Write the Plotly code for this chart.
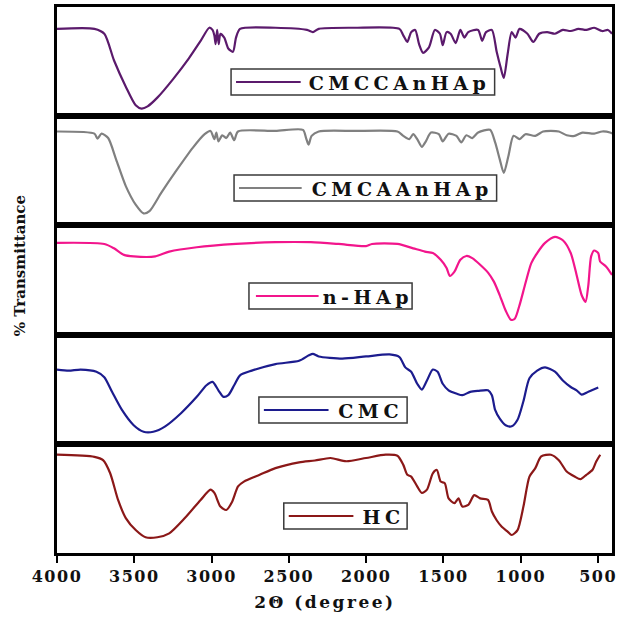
import plotly.graph_objects as go
from plotly.subplots import make_subplots

# FTIR spectra, wavenumber (cm-1) vs relative transmittance (0-100 within each panel)
cmccanhap_wn = [4000, 3758, 3694, 3631, 3555, 3491, 3453, 3414, 3351, 3249, 3147, 3071, 3015, 2994,
                2982, 2974, 2964, 2954, 2943, 2918, 2892, 2862, 2842, 2816, 2587, 2383, 2345, 2307,
                2078, 1785, 1760, 1734, 1709, 1683, 1658, 1632, 1594, 1556, 1523, 1505, 1480, 1454,
                1421, 1391, 1365, 1340, 1276, 1250, 1225, 1187, 1156, 1131, 1110, 1085, 1059, 1034,
                1008, 957, 919, 881, 830, 779, 728, 677, 627, 576, 525, 474, 436, 410]
cmccanhap_t = [80, 80, 75.5, 51, 27, 10, 7, 9, 17, 34, 53, 69, 81, 79,
               74, 66, 79, 66, 75.5, 72, 62, 59, 72, 80, 81, 79, 77, 80,
               81, 80, 74, 68, 77, 79, 66, 58, 63, 79, 75.5, 65, 77, 75.5,
               67, 79, 72, 77, 79, 69, 77, 79, 59, 45, 35, 57, 77, 72,
               80, 75.5, 68, 75.5, 77, 75.5, 79, 78, 80, 79, 81, 78, 79, 75.5]

cmcaanhap_wn = [4000, 3758, 3738, 3712, 3669, 3618, 3555, 3491, 3440, 3402, 3325, 3224, 3122, 3045,
                3007, 2982, 2969, 2956, 2931, 2905, 2880, 2854, 2829, 2587, 2409, 2389, 2373, 2353,
                2307, 2078, 1798, 1760, 1721, 1696, 1670, 1640, 1614, 1581, 1530, 1505, 1467, 1416,
                1385, 1352, 1314, 1276, 1199, 1166, 1136, 1110, 1080, 1047, 1008, 970, 906, 856,
                805, 754, 703, 652, 601, 525, 474, 423, 410]
cmcaanhap_t = [86, 84, 79.5, 84, 80, 60.5, 36, 19, 11, 13, 30, 51, 71, 83.5,
               86.5, 79, 85, 77, 82.5, 80, 85, 78, 86, 86.5, 87.5, 80, 74, 82,
               86, 86.5, 86, 82, 79, 83.5, 79, 72, 77, 85, 83.5, 77, 84, 82,
               76, 82.5, 80, 85, 87.5, 76, 60.5, 48, 63.5, 82, 79, 83.5, 82, 86,
               86.5, 86, 82.5, 82, 85, 84, 86, 85, 84]

nhap_wn = [4000, 3694, 3631, 3567, 3504, 3364, 3274, 3096, 2842, 2587, 2358, 2180, 2001, 1963,
           1798, 1696, 1620, 1569, 1518, 1480, 1459, 1429, 1391, 1352, 1314, 1263, 1212, 1174,
           1136, 1098, 1064, 1039, 1008, 970, 932, 894, 843, 779, 728, 677, 639, 606,
           581, 563, 545, 525, 499, 487, 449, 410]
nhap_t = [84, 83, 79, 73, 71.6, 71.6, 76, 80, 83, 84.6, 84.6, 83, 81, 83,
          83, 79, 76, 74.7, 68.5, 61, 53.7, 57.7, 68.5, 72, 70, 64, 56.8, 48.5,
          36, 22, 13.6, 14.5, 27, 47, 65.4, 74.7, 84, 89.5, 86.4, 74.7, 54.6, 36,
          30, 45.4, 71.6, 77, 74.7, 67, 62.3, 54.6]

cmc_wn = [4000, 3924, 3847, 3745, 3694, 3644, 3580, 3504, 3440, 3377, 3300, 3198, 3096, 3033,
          2994, 2956, 2923, 2892, 2854, 2816, 2740, 2587, 2434, 2371, 2345, 2307, 2154, 2001,
          1849, 1785, 1747, 1709, 1670, 1640, 1607, 1569, 1538, 1505, 1467, 1416, 1378, 1327,
          1276, 1212, 1187, 1166, 1136, 1098, 1059, 1021, 983, 944, 894, 843, 779, 728,
          677, 639, 606, 563, 499]
cmc_t = [68, 67, 68, 66, 61, 47.6, 31, 17, 11, 11, 16, 28, 43, 53.6,
         56.7, 49, 43, 44.5, 53.6, 62.7, 67, 73, 76, 81, 82.4, 80, 78, 80,
         81.8, 79.4, 70, 66, 55, 49.7, 58, 68, 66, 55, 49, 46, 44.5, 47.6,
         48.5, 49, 44.5, 31, 23, 17, 16, 22, 39, 60, 67, 70, 66, 58,
         52, 49, 45, 47.6, 51.5]

hc_wn = [4000, 3758, 3702, 3656, 3605, 3555, 3491, 3427, 3351, 3274, 3173, 3071, 3007, 2982,
         2943, 2905, 2867, 2829, 2791, 2689, 2587, 2434, 2332, 2231, 2129, 2001, 1874, 1798,
         1760, 1734, 1709, 1670, 1640, 1607, 1569, 1543, 1518, 1492, 1467, 1429, 1403, 1378,
         1340, 1301, 1263, 1212, 1187, 1156, 1123, 1085, 1059, 1021, 983, 944, 906, 868,
         805, 754, 703, 652, 614, 576, 537, 512, 486]
hc_t = [90, 88, 85, 73, 48.6, 32, 21, 14.4, 14.4, 18, 32, 48.6, 58, 55,
        42.5, 39.4, 47, 61, 65.4, 71.6, 77.7, 83, 84.7, 87, 84, 87, 90, 89,
        80.7, 71.6, 70, 61, 55, 58, 73, 76, 65.4, 64, 50, 45.6, 50, 42.5,
        44, 53, 50, 48.6, 38, 30, 24, 19.6, 16.5, 21, 42.5, 70, 77.7, 88.4,
        90, 85, 74.6, 70, 67.6, 71.6, 76, 83.8, 90]

series_names = ["CMCCAnHAp", "CMCAAnHAp", "n-HAp", "CMC", "HC"]
series_wn = [cmccanhap_wn, cmcaanhap_wn, nhap_wn, cmc_wn, hc_wn]
series_t = [cmccanhap_t, cmcaanhap_t, nhap_t, cmc_t, hc_t]
series_colors = ["#5b1a6c", "#808080", "#f2158c", "#1c1c8e", "#8b1818"]

x_ticks = [4000, 3500, 3000, 2500, 2000, 1500, 1000, 500]

# Page geometry (pixels) used to place the panel legends
W, H = 619, 619
ML, MR, MT, MB = 57, 4, 7, 66
PW, PH = W - ML - MR, H - MT - MB


def px(x):
    return (x - ML) / PW


def py(y):
    return (H - MB - y) / PH


# legend box: left, top, right, bottom, line start, line end, text centre x
legend_boxes = [
    (232, 69, 497, 95, 237, 302, 401),
    (235, 175, 499, 201, 240, 303, 404),
    (250, 283, 414, 309, 257, 320, 370),
    (260, 397, 409, 423, 265, 330, 372),
    (285, 503, 409, 529, 290, 355, 385),
]

SERIF = "DejaVu Serif"

fig = make_subplots(rows=5, cols=1, shared_xaxes=True, vertical_spacing=0)

for i, (name, wn, t, col) in enumerate(zip(series_names, series_wn, series_t, series_colors)):
    fig.add_trace(go.Scatter(x=wn, y=t, mode="lines", name=name,
                             line=dict(color=col, width=2.2, shape="spline", smoothing=0.7),
                             showlegend=False),
                  row=i + 1, col=1)
    fig.update_yaxes(range=[0, 100], showticklabels=False, ticks="", showgrid=False,
                     zeroline=False, showline=True, mirror=True, linecolor="black",
                     linewidth=2.5, row=i + 1, col=1)

    l, t_, r, b, ls, le, tc = legend_boxes[i]
    fig.add_shape(type="rect", xref="paper", yref="paper",
                  x0=px(l), x1=px(r), y0=py(b), y1=py(t_),
                  line=dict(color="#3a3a3a", width=1.5), fillcolor="white", layer="above")
    yc = (t_ + b) / 2
    fig.add_shape(type="line", xref="paper", yref="paper",
                  x0=px(ls), x1=px(le), y0=py(yc), y1=py(yc),
                  line=dict(color=col, width=2.2), layer="above")
    fig.add_annotation(xref="paper", yref="paper", x=px(tc), y=py(yc + 1),
                       text=name, showarrow=False, xanchor="center", yanchor="middle",
                       font=dict(family=SERIF, size=19, color="#111", weight="bold"))

fig.update_xaxes(range=[4000, 410], showgrid=False, zeroline=False, showline=True,
                 mirror=True, linecolor="black", linewidth=2.5, ticks="", showticklabels=False)
fig.update_xaxes(ticks="outside", tickvals=x_ticks, ticklen=7, tickwidth=2, tickcolor="black",
                 showticklabels=True,
                 tickfont=dict(family=SERIF, size=16, color="#111", weight="bold"),
                 row=5, col=1)

fig.add_annotation(xref="paper", yref="paper", x=px(326), y=py(602),
                   text="2Θ (degree)", showarrow=False, xanchor="center", yanchor="middle",
                   font=dict(family=SERIF, size=17, color="#111", weight="bold"))
fig.add_annotation(xref="paper", yref="paper", x=px(20), y=py(266),
                   text="% Transmittance", showarrow=False, textangle=-90,
                   xanchor="center", yanchor="middle",
                   font=dict(family=SERIF, size=15, color="#111", weight="bold"))

fig.update_layout(width=W, height=H, margin=dict(l=ML, r=MR, t=MT, b=MB),
                  paper_bgcolor="white", plot_bgcolor="white")

# Wide letter spacing for the legend labels, axis title and tick labels
spacing_js = """
var names = %s;
document.querySelectorAll('.annotation-text').forEach(function (el) {
  var s = el.textContent;
  if (names.indexOf(s) >= 0) { el.style.letterSpacing = '4.5px'; }
  else if (s.indexOf('degree') >= 0) { el.style.letterSpacing = '2.5px'; }
});
document.querySelectorAll('g.xaxislayer-above text').forEach(function (el) {
  el.style.letterSpacing = '1.5px';
});
""" % str(series_names).replace("'", '"')

fig.write_html("out.html", post_script=spacing_js)
